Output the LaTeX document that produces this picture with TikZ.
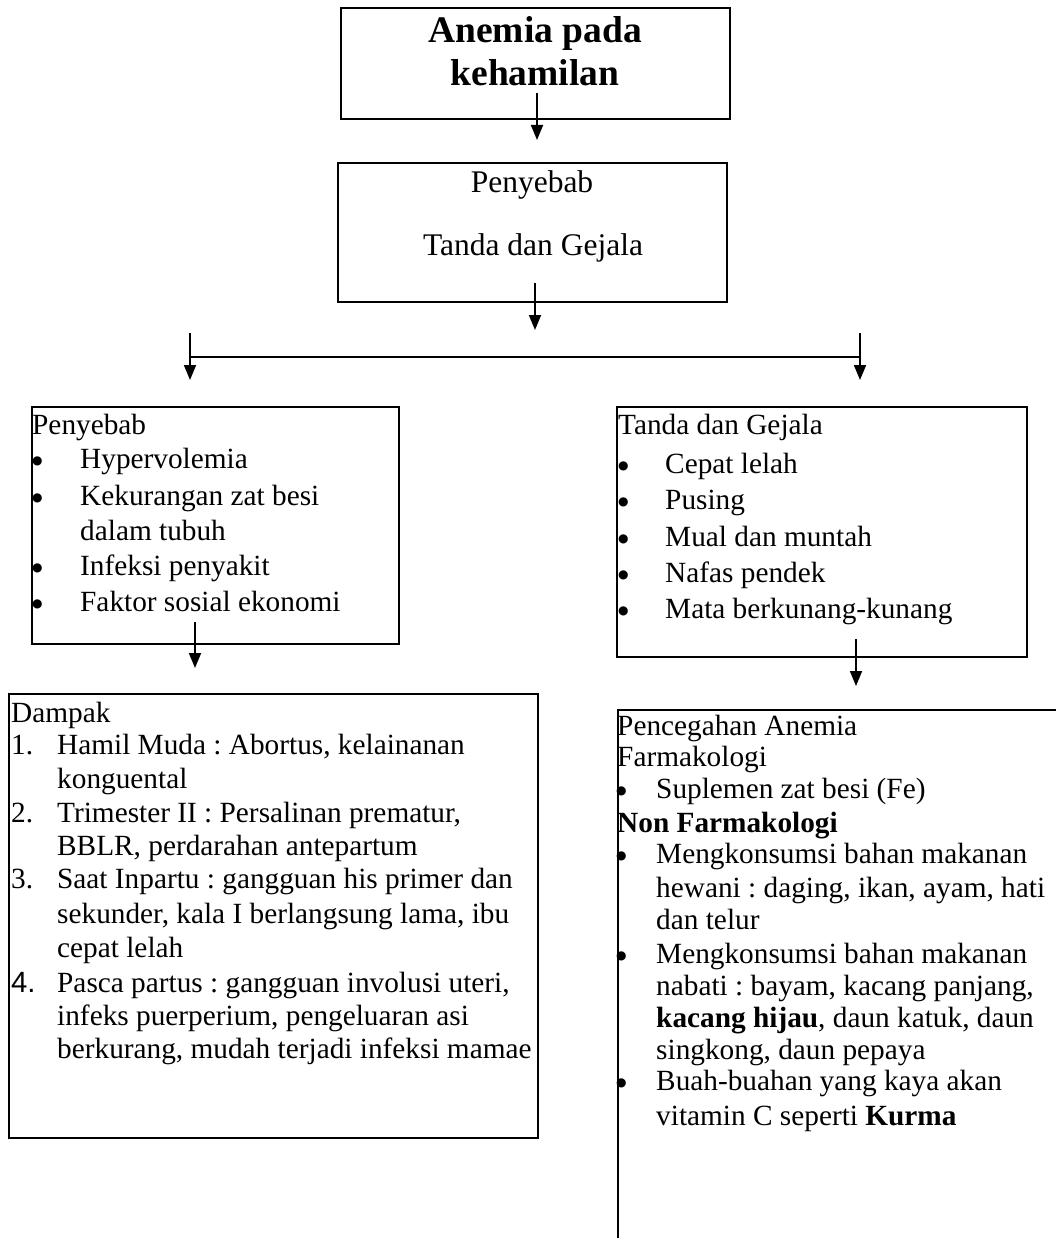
\documentclass[tikz,border=0pt]{standalone}
\usepackage{fontspec}
\setmainfont{Liberation Serif}
\newfontfamily\sansf{Liberation Sans}
\newfontfamily\dejavu{DejaVu Sans}
\usetikzlibrary{arrows.meta}
\frenchspacing
\newcommand\tline[4]{\node[txt] (#1) at (#2,#3) {#4};}
\newcommand\bl[1]{\makebox[#1pt][l]{\raisebox{4pt}{\dejavu\fontsize{12}{12}\selectfont ●}}}
\newcommand\nm[2]{\makebox[#1pt][l]{#2}}
\begin{document}
\begin{tikzpicture}[x=1pt,y=-1pt,
  box/.style={draw, line width=2pt, rectangle, inner sep=0pt, anchor=north west},
  txt/.style={inner sep=0pt, anchor=base west, font=\fontsize{29.3}{34}\selectfont},
  ctxt/.style={inner sep=0pt, anchor=base, font=\fontsize{31.5}{36}\selectfont},
  ttl/.style={inner sep=0pt, anchor=base, font=\fontsize{37.5}{43}\selectfont\bfseries},
  arr/.style={line width=1.8pt, -{Triangle[length=15pt,width=12pt]}},
  ln/.style={line width=2pt}]
\useasboundingbox (0,0) rectangle (1056,1238);
\clip (0,0) rectangle (1056,1238);
\fill[white] (0,0) rectangle (1056,1238);

% boxes
\node[box, minimum width=389pt, minimum height=111pt] (top) at (340,7) {};
\node[box, minimum width=389pt, minimum height=139pt] (mid) at (337,162) {};
\node[box, minimum width=367pt, minimum height=237pt] (pen) at (31,406) {};
\node[box, minimum width=410pt, minimum height=250pt] (tg) at (616,406) {};
\node[box, minimum width=529pt, minimum height=444pt] (dam) at (8,693) {};
\node[box, minimum width=480pt, minimum height=560pt] (pc) at (617,709) {};

% title
\node[ttl] (t1) at (535,43) {Anemia pada};
\node[ttl] (t2) at (535,86) {kehamilan};

% middle
\node[ctxt] (m1) at (532,193) {Penyebab};
\node[ctxt] (m2) at (533,256) {Tanda dan Gejala};

% connectors
\coordinate (a1s) at (537,93);  \coordinate (a1e) at (537,140);
\coordinate (a2s) at (535,283); \coordinate (a2e) at (535,330);
\coordinate (hl) at (190,357);  \coordinate (hr) at (860,357);
\coordinate (l1) at (190,333);  \coordinate (l2) at (190,380);
\coordinate (r1) at (860,333);  \coordinate (r2) at (860,380);
\coordinate (a3s) at (195,622); \coordinate (a3e) at (195,668);
\coordinate (a4s) at (856,639); \coordinate (a4e) at (856,686);
\draw[arr] (a1s) -- (a1e);
\draw[arr] (a2s) -- (a2e);
\draw[ln] (hl) -- (hr);
\draw[arr] (l1) -- (l2);
\draw[arr] (r1) -- (r2);
\draw[arr] (a3s) -- (a3e);
\draw[arr] (a4s) -- (a4e);

% Penyebab list
\tline{p0}{32}{434}{Penyebab}
\tline{p1}{32}{468}{\bl{48}Hypervolemia}
\tline{p2}{32}{505}{\bl{48}Kekurangan zat besi}
\tline{p3}{80}{540}{dalam tubuh}
\tline{p4}{32}{575}{\bl{48}Infeksi penyakit}
\tline{p5}{32}{611}{\bl{48}Faktor sosial ekonomi}

% Tanda dan Gejala list
\tline{g0}{618}{434}{Tanda dan Gejala}
\tline{g1}{618}{473}{\bl{47}Cepat lelah}
\tline{g2}{618}{509}{\bl{47}Pusing}
\tline{g3}{618}{546}{\bl{47}Mual dan muntah}
\tline{g4}{618}{582}{\bl{47}Nafas pendek}
\tline{g5}{618}{618}{\bl{47}Mata berkunang-kunang}

% Dampak
\tline{d0}{11}{722}{Dampak}
\tline{d1}{11}{754}{\nm{46}{1.}Hamil Muda : Abortus, kelainanan}
\tline{d2}{57}{788}{konguental}
\tline{d3}{11}{822}{\nm{46}{2.}Trimester II : Persalinan prematur,}
\tline{d4}{57}{855}{BBLR, perdarahan antepartum}
\tline{d5}{11}{888}{\nm{46}{3.}Saat Inpartu : gangguan his primer dan}
\tline{d6}{57}{923}{sekunder, kala I berlangsung lama, ibu}
\tline{d7}{57}{957}{cepat lelah}
\tline{d8}{11}{992}{\nm{46}{\sansf 4.}Pasca partus : gangguan involusi uteri,}
\tline{d9}{57}{1025}{infeks puerperium, pengeluaran asi}
\tline{d10}{57}{1058}{berkurang, mudah terjadi infeksi mamae}

% Pencegahan
\tline{c0}{617}{735}{Pencegahan Anemia}
\tline{c1}{617}{766}{Farmakologi}
\tline{c2}{616}{798}{\bl{40}Suplemen zat besi (Fe)}
\tline{c3}{617}{832}{\textbf{Non Farmakologi}}
\tline{c4}{616}{863}{\bl{40}Mengkonsumsi bahan makanan}
\tline{c5}{656}{897}{hewani : daging, ikan, ayam, hati}
\tline{c6}{656}{929}{dan telur}
\tline{c7}{616}{963}{\bl{40}Mengkonsumsi bahan makanan}
\tline{c8}{656}{995}{nabati : bayam, kacang panjang,}
\tline{c9}{656}{1027}{\textbf{kacang hijau}, daun katuk, daun}
\tline{c10}{656}{1059}{singkong, daun pepaya}
\tline{c11}{616}{1090}{\bl{40}Buah-buahan yang kaya akan}
\tline{c12}{656}{1125}{vitamin C seperti \textbf{Kurma}}
\end{tikzpicture}
\end{document}
